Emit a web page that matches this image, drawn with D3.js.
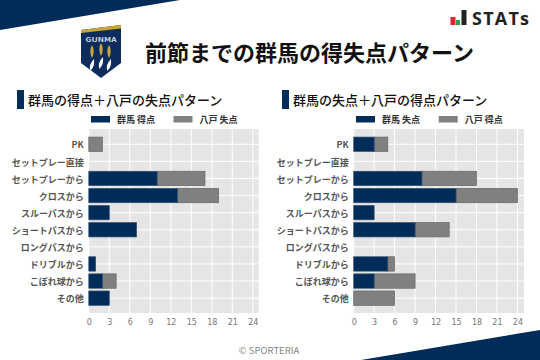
<!DOCTYPE html>
<html lang="ja">
<head>
<meta charset="utf-8">
<title>前節までの群馬の得失点パターン</title>
<script src="https://d3js.org/d3.v7.min.js"></script>
<style>
    html, body { margin: 0; padding: 0; background: #fff; }
    svg { display: block; }
    text { font-family: "Noto Sans CJK JP", "Noto Sans", sans-serif; }
    .ytick text { font-size: 9px; font-weight: 700; fill: #555; }
    .xtick text { font-family: "DejaVu Sans", sans-serif; font-size: 8px; fill: #777; }
</style>
</head>
<body>
<script>
    var categories = ["PK", "セットプレー直接", "セットプレーから", "クロスから", "スルーパスから",
        "ショートパスから", "ロングパスから", "ドリブルから", "こぼれ球から", "その他"];
    var leftNavy = [0, 0, 10, 13, 3, 7, 0, 1, 2, 3];
    var leftGray = [2, 0, 7, 6, 0, 0, 0, 0, 2, 0];
    var rightNavy = [3, 0, 10, 15, 3, 9, 0, 5, 3, 0];
    var rightGray = [2, 0, 8, 9, 0, 5, 0, 1, 6, 6];
    var xTicks = [0, 3, 6, 9, 12, 15, 18, 21, 24];

    var w = 540, h = 360;
    var navy = "#002c5a", gray = "#808080";

    var svg = d3.select("body").append("svg").attr("width", w).attr("height", h);

    //corner wedges
    svg.append("path").attr("d", "M0,0H180L0,30Z").attr("fill", navy);
    svg.append("path").attr("d", "M540,330V360H361Z").attr("fill", navy);

    //emblem
    var logo = svg.append("g").attr("transform", "translate(81,25)");
    logo.append("path").attr("d", "M0,5L40,0V38L20,53L0,38Z").attr("fill", "#0b2c5c");
    logo.append("path").attr("d", "M0,5L40,0V3.5L0,8Z").attr("fill", "#c9a63c");
    logo.append("text").attr("x", 20).attr("y", 16.5).attr("text-anchor", "middle").text("GUNMA")
        .attr("font-size", 5.5).attr("font-weight", 700).attr("fill", "#d5dbe6")
        .attr("textLength", 31).attr("lengthAdjust", "spacingAndGlyphs");
    [11, 20, 28].forEach(function(cx, i) {
        var top = i == 1 ? 18 : 20;
        logo.append("path").attr("d", "M" + cx + "," + top + "q3.5,6 0,13q-3.5,-7 0,-13Z").attr("fill", "#c9a63c");
        logo.append("path").attr("d", "M" + (cx + 2) + "," + (top + 14) + "q1,7 -3.5,12q-2.5,-6 3.5,-12Z").attr("fill", "#fff");
    });

    //STATs mark
    svg.append("rect").attr("x", 450.5).attr("y", 17).attr("width", 5).attr("height", 8).attr("fill", "#e0242c");
    svg.append("rect").attr("x", 456).attr("y", 20).attr("width", 4).attr("height", 5).attr("fill", "#2ca24c");
    svg.append("rect").attr("x", 461.5).attr("y", 10).attr("width", 5).attr("height", 15).attr("fill", "#222");
    svg.append("text").attr("x", 472).attr("y", 24.5).text("STATs")
        .attr("font-size", 18).attr("font-weight", 700)
        .attr("textLength", 57).attr("lengthAdjust", "spacing")
        .style("font-family", "'Open Sans', sans-serif").attr("fill", "#222");

    svg.append("text").attr("x", 145).attr("y", 61).text("前節までの群馬の得失点パターン")
        .attr("font-size", 22).attr("font-weight", 700).attr("fill", "#111");

    svg.append("text").attr("x", 269).attr("y", 354).attr("text-anchor", "middle").text("© SPORTERIA")
        .attr("font-size", 9.5).attr("fill", "#888");

    function panel(opt) {
        var g = svg.append("g");

        g.append("rect").attr("x", opt.barX).attr("y", 90).attr("width", 7).attr("height", 19).attr("fill", navy);
        g.append("text").attr("x", opt.barX + 11).attr("y", 105).text(opt.title)
            .attr("font-size", 13).attr("font-weight", 500).attr("fill", "#111");

        //legend
        opt.legend.forEach(function(l, i) {
            g.append("rect").attr("x", l.x).attr("y", 116).attr("width", 19).attr("height", 6.5)
                .attr("fill", i == 0 ? navy : gray);
            g.append("text").attr("x", l.x + 26).attr("y", 123).text(l.label)
                .attr("font-size", 9).attr("font-weight", 700).attr("fill", "#333");
        });

        var x = d3.scaleLinear().domain([0, 24]).range([opt.x0, opt.x24]);
        var y = d3.scaleBand().domain(categories).range([135.7, 306.7]).paddingInner(0.16).paddingOuter(0.08);

        g.append("rect").attr("x", opt.x0).attr("y", 129).attr("width", opt.right - opt.x0).attr("height", 184)
            .attr("fill", "#e5e5e5");

        //grid lines
        g.selectAll(".vgrid").data(xTicks).enter().append("line")
            .attr("x1", function(d) { return x(d); }).attr("x2", function(d) { return x(d); })
            .attr("y1", 129).attr("y2", 313).attr("stroke", "#fff").attr("stroke-width", 1);
        g.selectAll(".hgrid").data(categories).enter().append("line")
            .attr("x1", opt.x0).attr("x2", opt.right)
            .attr("y1", function(d) { return y(d) + y.bandwidth() / 2; })
            .attr("y2", function(d) { return y(d) + y.bandwidth() / 2; })
            .attr("stroke", "#fff").attr("stroke-width", 1);

        //stacked bars
        var rows = categories.map(function(c, i) { return { c: c, a: opt.navy[i], b: opt.gray[i] }; });
        g.selectAll(".grayBar").data(rows.filter(function(d) { return d.b > 0; })).enter().append("rect")
            .attr("x", function(d) { return x(d.a); })
            .attr("y", function(d) { return y(d.c); })
            .attr("width", function(d) { return x(d.a + d.b) - x(d.a); })
            .attr("height", y.bandwidth())
            .attr("fill", gray).attr("stroke", "#666").attr("stroke-width", 0.7);
        g.selectAll(".navyBar").data(rows.filter(function(d) { return d.a > 0; })).enter().append("rect")
            .attr("x", function(d) { return x(0); })
            .attr("y", function(d) { return y(d.c); })
            .attr("width", function(d) { return x(d.a) - x(0); })
            .attr("height", y.bandwidth())
            .attr("fill", navy).attr("stroke", "#33506f").attr("stroke-width", 0.7);

        //labels sit a little below the band centre
        var yAxis = g.append("g").attr("class", "ytick")
            .attr("transform", "translate(" + (opt.x0 - 2) + ",1.3)")
            .call(d3.axisLeft(y).tickSize(0).tickPadding(3));
        yAxis.select(".domain").remove();

        var xAxis = g.append("g").attr("class", "xtick")
            .attr("transform", "translate(0,313)")
            .call(d3.axisBottom(x).tickValues(xTicks).tickSize(0).tickPadding(6.5));
        xAxis.select(".domain").remove();
    }

    panel({
        barX: 17, title: "群馬の得点＋八戸の失点パターン",
        legend: [{ x: 91, label: "群馬 得点" }, { x: 173.5, label: "八戸 失点" }],
        navy: leftNavy, gray: leftGray, x0: 88.8, x24: 252.8, right: 258.7
    });
    panel({
        barX: 282, title: "群馬の失点＋八戸の得点パターン",
        legend: [{ x: 356, label: "群馬 失点" }, { x: 438.7, label: "八戸 得点" }],
        navy: rightNavy, gray: rightGray, x0: 353.7, x24: 517.4, right: 524
    });
</script>
</body>
</html>
